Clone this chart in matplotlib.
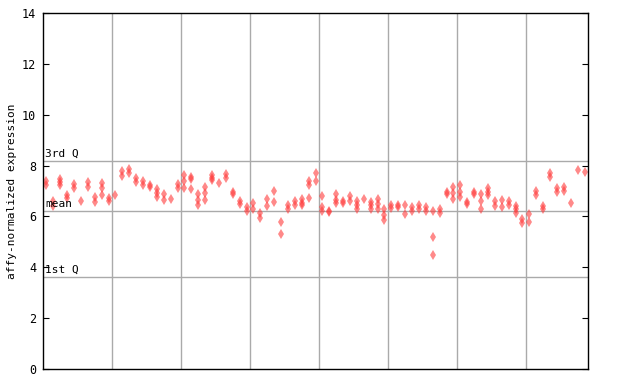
import numpy as np
import matplotlib
matplotlib.use('Agg')
import matplotlib.pyplot as plt

# expression values per sample (one list per column)
values = [
    [7.38, 7.22], [6.61, 6.41], [7.46, 7.34, 7.24], [6.85, 6.72], [7.29, 7.12],
    [6.61], [7.34, 7.17], [6.78, 6.58], [7.31, 7.13, 6.84], [6.74, 6.62],
    [6.84], [7.80, 7.60], [7.85, 7.69], [7.53, 7.37], [7.39, 7.25],
    [7.24, 7.14], [7.06, 6.91, 6.75], [6.88, 6.65], [6.69], [7.26, 7.10],
    [7.63, 7.39, 7.10], [7.57, 7.46, 7.07], [6.87, 6.63, 6.43], [7.14, 6.91, 6.63], [7.61, 7.52, 7.43],
    [7.30], [7.67, 7.52], [6.97, 6.88], [6.61, 6.47], [6.38, 6.23],
    [6.51, 6.30], [6.12, 5.93], [6.67, 6.42], [7.00, 6.55], [5.79, 5.30],
    [6.43, 6.30], [6.62, 6.43], [6.67, 6.54, 6.43], [7.40, 7.22, 6.72], [7.69, 7.40],
    [6.79, 6.37, 6.20], [6.22, 6.18], [6.87, 6.63, 6.51], [6.62, 6.51], [6.80, 6.59],
    [6.62, 6.43, 6.28], [6.68], [6.58, 6.43, 6.29], [6.70, 6.47, 6.28], [6.28, 6.04, 5.84],
    [6.45, 6.33], [6.46, 6.36], [6.43, 6.10], [6.36, 6.20], [6.43, 6.28],
    [6.36, 6.20], [6.20, 5.18, 4.47], [6.29, 6.12], [6.95, 6.87], [7.14, 6.91, 6.70],
    [7.22, 6.95, 6.78], [6.58, 6.47], [6.97, 6.88], [6.87, 6.59, 6.28], [7.12, 6.96, 6.83],
    [6.59, 6.40], [6.63, 6.36], [6.59, 6.43], [6.40, 6.28, 6.12], [5.88, 5.73],
    [6.08, 5.77], [6.99, 6.83], [6.40, 6.28], [7.72, 7.57], [7.10, 6.95],
    [7.14, 6.99], [6.51], [7.81], [7.75],
]

q1 = 3.62
mean = 6.21
q3 = 8.19

n = len(values)
mono = 'DejaVu Sans Mono'

fig = plt.figure(figsize=(6.4, 3.84), dpi=100)
ax = fig.add_axes([43/640, 15/384, 545/640, 356/384])

for i, vals in enumerate(values):
    ax.plot([i + 0.5]*len(vals), vals, linestyle='none', marker='d',
            markersize=5.5, color='#ff3b3b', alpha=0.6, markeredgewidth=0)

# group separators and quartile lines
for xg in range(10, n, 10):
    ax.axvline(xg, color='#aaaaaa', linewidth=1, zorder=0)
for yv in (q1, mean, q3):
    ax.axhline(yv, color='#aaaaaa', linewidth=1, zorder=0)

ax.text(0.3, q3 + 0.08, '3rd Q', fontsize=8, family=mono, va='bottom', ha='left')
ax.text(0.3, mean + 0.08, 'mean', fontsize=8, family=mono, va='bottom', ha='left')
ax.text(0.3, q1 + 0.08, '1st Q', fontsize=8, family=mono, va='bottom', ha='left')

ax.set_xlim(0, n)
ax.set_ylim(0, 14)
ax.set_yticks(range(0, 15, 2))
ax.set_xticks([])
ax.tick_params(axis='y', direction='in', length=4, right=True, labelsize=8.5, pad=5)
for lbl in ax.get_yticklabels():
    lbl.set_family(mono)
ax.set_ylabel('affy-normalized expression', fontsize=8, family=mono)
ax.yaxis.set_label_coords(-0.047, 0.5)
for sp in ax.spines.values():
    sp.set_linewidth(1)

fig.savefig('out.png', dpi=100)
